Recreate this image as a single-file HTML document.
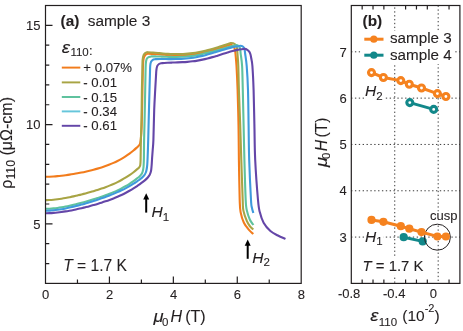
<!DOCTYPE html>
<html><head><meta charset="utf-8"><title>fig</title>
<style>html,body{margin:0;padding:0;background:#fff;}body{width:463px;height:331px;overflow:hidden;}svg{display:block;}text{font-family:"Liberation Sans",sans-serif;fill:#231f20;stroke:#231f20;stroke-width:0.1px;}</style></head><body>
<svg width="463" height="331" viewBox="0 0 463 331" style="will-change:transform">
<rect width="463" height="331" fill="#fff"/>
<path d="M45.50 176.78 C46.17 176.77 48.17 176.76 49.50 176.71 C50.83 176.66 52.17 176.59 53.50 176.50 C54.83 176.41 56.17 176.30 57.50 176.17 C58.83 176.05 60.17 175.90 61.50 175.75 C62.83 175.59 64.17 175.42 65.50 175.24 C66.83 175.05 68.17 174.86 69.50 174.65 C70.83 174.45 72.17 174.23 73.50 174.00 C74.83 173.77 76.17 173.53 77.50 173.28 C78.83 173.03 80.17 172.77 81.50 172.50 C82.83 172.23 84.17 171.95 85.50 171.65 C86.83 171.36 88.17 171.05 89.50 170.73 C90.83 170.41 92.17 170.08 93.50 169.72 C94.83 169.37 96.17 169.01 97.50 168.62 C98.83 168.23 100.17 167.83 101.50 167.40 C102.83 166.98 104.17 166.53 105.50 166.05 C106.83 165.58 108.17 165.08 109.50 164.54 C110.83 164.01 112.17 163.45 113.50 162.85 C114.83 162.25 116.17 161.62 117.50 160.95 C118.83 160.27 120.17 159.56 121.50 158.79 C122.83 158.03 124.17 157.22 125.50 156.35 C126.83 155.49 128.17 154.58 129.50 153.59 C130.83 152.61 132.17 151.58 133.50 150.46 C134.83 149.35 136.70 147.64 137.50 146.92 C138.30 146.20 137.93 146.54 138.30 146.16 C138.67 145.77 139.37 145.21 139.70 144.60 C140.03 143.99 140.12 143.43 140.30 142.50 C140.48 141.57 140.63 140.58 140.80 139.00 C140.97 137.42 141.15 135.33 141.30 133.00 C141.45 130.67 141.58 128.50 141.70 125.00 C141.82 121.50 141.91 116.17 142.00 112.00 C142.09 107.83 142.16 104.67 142.25 100.00 C142.34 95.33 142.46 88.67 142.55 84.00 C142.64 79.33 142.71 75.50 142.80 72.00 C142.89 68.50 142.95 65.28 143.10 63.00 C143.25 60.72 143.40 59.53 143.70 58.30 C144.00 57.07 144.42 56.28 144.90 55.60 C145.38 54.92 146.08 54.51 146.60 54.20 C147.12 53.89 146.93 53.79 148.00 53.75 C149.07 53.71 151.33 53.86 153.00 53.95 C154.67 54.04 156.33 54.16 158.00 54.27 C159.67 54.39 161.33 54.52 163.00 54.63 C164.67 54.74 166.33 54.86 168.00 54.95 C169.67 55.05 171.33 55.13 173.00 55.19 C174.67 55.24 176.33 55.28 178.00 55.28 C179.67 55.28 181.33 55.26 183.00 55.20 C184.67 55.13 186.33 55.04 188.00 54.91 C189.67 54.77 191.33 54.60 193.00 54.40 C194.67 54.19 196.33 53.94 198.00 53.66 C199.67 53.38 201.33 53.05 203.00 52.70 C204.67 52.35 206.33 51.95 208.00 51.53 C209.67 51.11 211.33 50.66 213.00 50.19 C214.67 49.71 216.33 49.21 218.00 48.70 C219.67 48.18 221.33 47.64 223.00 47.11 C224.67 46.57 226.78 45.87 228.00 45.49 C229.22 45.10 229.53 44.78 230.30 44.80 C231.07 44.82 231.95 45.17 232.60 45.60 C233.25 46.03 233.80 46.67 234.20 47.40 C234.60 48.13 234.78 48.90 235.00 50.00 C235.22 51.10 235.25 51.33 235.50 54.00 C235.75 56.67 236.15 60.00 236.50 66.00 C236.85 72.00 237.27 80.17 237.60 90.00 C237.93 99.83 238.28 113.33 238.50 125.00 C238.72 136.67 238.70 147.50 238.90 160.00 C239.10 172.50 239.42 191.32 239.70 200.00 C239.98 208.68 239.90 208.32 240.60 212.10 C241.30 215.88 242.47 219.68 243.90 222.70 C245.33 225.72 247.63 228.32 249.20 230.20 C250.77 232.08 252.62 233.37 253.30 234.00" fill="none" stroke="#F27C1C" stroke-width="2.1" stroke-linejoin="round" stroke-linecap="butt"/>
<path d="M45.50 200.13 C46.17 200.11 48.17 200.09 49.50 200.02 C50.83 199.96 52.17 199.86 53.50 199.73 C54.83 199.61 56.17 199.45 57.50 199.28 C58.83 199.11 60.17 198.91 61.50 198.70 C62.83 198.49 64.17 198.26 65.50 198.01 C66.83 197.76 68.17 197.50 69.50 197.23 C70.83 196.95 72.17 196.67 73.50 196.37 C74.83 196.07 76.17 195.76 77.50 195.44 C78.83 195.12 80.17 194.80 81.50 194.46 C82.83 194.12 84.17 193.77 85.50 193.42 C86.83 193.06 88.17 192.69 89.50 192.32 C90.83 191.94 92.17 191.55 93.50 191.15 C94.83 190.75 96.17 190.34 97.50 189.92 C98.83 189.49 100.17 189.05 101.50 188.60 C102.83 188.14 104.17 187.67 105.50 187.18 C106.83 186.68 108.17 186.17 109.50 185.64 C110.83 185.10 112.17 184.54 113.50 183.95 C114.83 183.36 116.17 182.74 117.50 182.09 C118.83 181.43 120.17 180.75 121.50 180.02 C122.83 179.29 124.17 178.53 125.50 177.71 C126.83 176.90 128.17 176.04 129.50 175.12 C130.83 174.21 132.17 173.24 133.50 172.21 C134.83 171.18 136.58 169.70 137.50 168.92 C138.42 168.15 138.55 168.21 139.00 167.59 C139.45 166.97 139.93 166.46 140.20 165.20 C140.47 163.94 140.48 164.20 140.60 160.00 C140.72 155.80 140.75 146.67 140.90 140.00 C141.05 133.33 141.33 128.33 141.50 120.00 C141.67 111.67 141.77 97.67 141.90 90.00 C142.03 82.33 142.18 79.00 142.30 74.00 C142.42 69.00 142.38 63.13 142.60 60.00 C142.82 56.87 143.15 56.37 143.60 55.20 C144.05 54.03 144.73 53.50 145.30 53.00 C145.87 52.50 146.55 52.32 147.00 52.20 C147.45 52.08 147.00 52.20 148.00 52.27 C149.00 52.34 151.33 52.50 153.00 52.63 C154.67 52.76 156.33 52.91 158.00 53.05 C159.67 53.19 161.33 53.34 163.00 53.46 C164.67 53.59 166.33 53.71 168.00 53.81 C169.67 53.91 171.33 53.99 173.00 54.04 C174.67 54.09 176.33 54.12 178.00 54.11 C179.67 54.10 181.33 54.07 183.00 53.99 C184.67 53.92 186.33 53.81 188.00 53.66 C189.67 53.52 191.33 53.33 193.00 53.11 C194.67 52.89 196.33 52.63 198.00 52.33 C199.67 52.03 201.33 51.70 203.00 51.33 C204.67 50.97 206.33 50.56 208.00 50.13 C209.67 49.70 211.33 49.23 213.00 48.75 C214.67 48.26 216.33 47.75 218.00 47.22 C219.67 46.70 221.33 46.15 223.00 45.60 C224.67 45.05 227.00 44.27 228.00 43.93 C229.00 43.60 228.57 43.76 229.00 43.60 C229.43 43.45 229.92 43.05 230.60 43.00 C231.28 42.95 232.32 43.03 233.10 43.30 C233.88 43.57 234.70 44.02 235.30 44.60 C235.90 45.18 236.38 45.90 236.70 46.80 C237.02 47.70 237.07 48.80 237.20 50.00 C237.33 51.20 237.32 51.33 237.50 54.00 C237.68 56.67 238.07 60.00 238.30 66.00 C238.53 72.00 238.58 80.17 238.90 90.00 C239.22 99.83 239.80 113.33 240.20 125.00 C240.60 136.67 240.88 147.50 241.30 160.00 C241.72 172.50 242.35 191.57 242.70 200.00 C243.05 208.43 242.70 207.07 243.40 210.60 C244.10 214.13 245.80 218.58 246.90 221.20 C248.00 223.82 248.93 224.92 250.00 226.30 C251.07 227.68 252.75 228.97 253.30 229.50" fill="none" stroke="#A8A444" stroke-width="2.1" stroke-linejoin="round" stroke-linecap="butt"/>
<path d="M45.50 208.83 C46.17 208.81 48.17 208.79 49.50 208.72 C50.83 208.65 52.17 208.54 53.50 208.40 C54.83 208.27 56.17 208.10 57.50 207.92 C58.83 207.74 60.17 207.52 61.50 207.29 C62.83 207.07 64.17 206.82 65.50 206.55 C66.83 206.29 68.17 206.01 69.50 205.71 C70.83 205.42 72.17 205.11 73.50 204.79 C74.83 204.47 76.17 204.14 77.50 203.80 C78.83 203.47 80.17 203.12 81.50 202.76 C82.83 202.40 84.17 202.03 85.50 201.66 C86.83 201.28 88.17 200.90 89.50 200.51 C90.83 200.11 92.17 199.71 93.50 199.30 C94.83 198.89 96.17 198.47 97.50 198.04 C98.83 197.60 100.17 197.16 101.50 196.70 C102.83 196.24 104.17 195.77 105.50 195.28 C106.83 194.79 108.17 194.29 109.50 193.76 C110.83 193.23 112.17 192.69 113.50 192.12 C114.83 191.55 116.17 190.95 117.50 190.33 C118.83 189.70 120.17 189.05 121.50 188.36 C122.83 187.67 124.17 186.95 125.50 186.19 C126.83 185.42 128.17 184.62 129.50 183.77 C130.83 182.91 132.25 181.95 133.50 181.06 C134.75 180.17 136.00 179.20 137.00 178.43 C138.00 177.65 138.78 177.07 139.50 176.40 C140.22 175.73 140.82 175.07 141.30 174.40 C141.78 173.73 142.10 173.17 142.40 172.40 C142.70 171.63 142.92 170.70 143.10 169.80 C143.28 168.90 143.40 167.97 143.50 167.00 C143.60 166.03 143.63 165.50 143.70 164.00 C143.77 162.50 143.83 162.00 143.90 158.00 C143.97 154.00 143.98 146.33 144.10 140.00 C144.22 133.67 144.42 128.33 144.60 120.00 C144.78 111.67 145.05 97.67 145.20 90.00 C145.35 82.33 145.40 78.33 145.50 74.00 C145.60 69.67 145.62 66.47 145.80 64.00 C145.98 61.53 146.17 60.32 146.60 59.20 C147.03 58.08 147.75 57.72 148.40 57.30 C149.05 56.88 149.98 56.86 150.50 56.70 C151.02 56.54 150.50 56.41 151.50 56.37 C152.50 56.32 154.83 56.40 156.50 56.44 C158.17 56.48 159.83 56.55 161.50 56.61 C163.17 56.67 164.83 56.74 166.50 56.79 C168.17 56.84 169.83 56.89 171.50 56.92 C173.17 56.94 174.83 56.95 176.50 56.93 C178.17 56.91 179.83 56.87 181.50 56.79 C183.17 56.71 184.83 56.61 186.50 56.46 C188.17 56.32 189.83 56.14 191.50 55.93 C193.17 55.71 194.83 55.46 196.50 55.18 C198.17 54.90 199.83 54.58 201.50 54.23 C203.17 53.88 204.83 53.50 206.50 53.09 C208.17 52.69 209.83 52.25 211.50 51.81 C213.17 51.36 214.83 50.89 216.50 50.42 C218.17 49.94 219.83 49.45 221.50 48.98 C223.17 48.50 224.83 48.01 226.50 47.56 C228.17 47.10 230.25 46.57 231.50 46.25 C232.75 45.93 233.20 45.86 234.00 45.67 C234.80 45.47 235.57 45.06 236.30 45.10 C237.03 45.14 237.82 45.48 238.40 45.90 C238.98 46.32 239.47 46.75 239.80 47.60 C240.13 48.45 240.25 49.93 240.40 51.00 C240.55 52.07 240.42 51.50 240.70 54.00 C240.98 56.50 241.75 60.00 242.10 66.00 C242.45 72.00 242.55 80.17 242.80 90.00 C243.05 99.83 243.33 113.33 243.60 125.00 C243.87 136.67 244.05 147.50 244.40 160.00 C244.75 172.50 245.28 191.57 245.70 200.00 C246.12 208.43 246.20 207.32 246.90 210.60 C247.60 213.88 248.82 217.30 249.90 219.70 C250.98 222.10 252.82 224.12 253.40 225.00" fill="none" stroke="#5FC29E" stroke-width="2.1" stroke-linejoin="round" stroke-linecap="butt"/>
<path d="M45.50 210.73 C46.17 210.71 48.17 210.69 49.50 210.62 C50.83 210.55 52.17 210.44 53.50 210.31 C54.83 210.17 56.17 210.01 57.50 209.82 C58.83 209.64 60.17 209.42 61.50 209.19 C62.83 208.96 64.17 208.71 65.50 208.44 C66.83 208.17 68.17 207.88 69.50 207.58 C70.83 207.28 72.17 206.96 73.50 206.64 C74.83 206.31 76.17 205.97 77.50 205.62 C78.83 205.27 80.17 204.91 81.50 204.54 C82.83 204.17 84.17 203.80 85.50 203.41 C86.83 203.02 88.17 202.63 89.50 202.22 C90.83 201.82 92.17 201.41 93.50 200.99 C94.83 200.57 96.17 200.14 97.50 199.70 C98.83 199.26 100.17 198.81 101.50 198.35 C102.83 197.89 104.17 197.42 105.50 196.94 C106.83 196.45 108.17 195.96 109.50 195.44 C110.83 194.93 112.17 194.40 113.50 193.85 C114.83 193.30 116.17 192.74 117.50 192.15 C118.83 191.56 120.17 190.95 121.50 190.31 C122.83 189.67 124.17 189.01 125.50 188.31 C126.83 187.61 128.17 186.89 129.50 186.12 C130.83 185.36 132.17 184.56 133.50 183.72 C134.83 182.87 136.58 181.68 137.50 181.06 C138.42 180.43 138.33 180.48 139.00 179.99 C139.67 179.49 140.77 178.71 141.50 178.10 C142.23 177.49 142.85 176.90 143.40 176.30 C143.95 175.70 144.40 175.13 144.80 174.50 C145.20 173.87 145.52 173.25 145.80 172.50 C146.08 171.75 146.30 170.92 146.50 170.00 C146.70 169.08 146.87 168.00 147.00 167.00 C147.13 166.00 147.20 165.50 147.30 164.00 C147.40 162.50 147.50 160.33 147.60 158.00 C147.70 155.67 147.80 153.00 147.90 150.00 C148.00 147.00 148.07 145.00 148.20 140.00 C148.33 135.00 148.48 128.33 148.70 120.00 C148.92 111.67 149.30 97.33 149.50 90.00 C149.70 82.67 149.78 80.00 149.90 76.00 C150.02 72.00 150.02 68.35 150.20 66.00 C150.38 63.65 150.57 62.93 151.00 61.90 C151.43 60.87 152.13 60.25 152.80 59.80 C153.47 59.35 154.47 59.31 155.00 59.20 C155.53 59.09 155.00 59.15 156.00 59.13 C157.00 59.10 159.33 59.05 161.00 59.04 C162.67 59.03 164.33 59.06 166.00 59.07 C167.67 59.08 169.33 59.10 171.00 59.10 C172.67 59.10 174.33 59.10 176.00 59.07 C177.67 59.04 179.33 58.99 181.00 58.90 C182.67 58.81 184.33 58.70 186.00 58.54 C187.67 58.39 189.33 58.20 191.00 57.97 C192.67 57.74 194.33 57.47 196.00 57.16 C197.67 56.86 199.33 56.51 201.00 56.13 C202.67 55.75 204.33 55.34 206.00 54.90 C207.67 54.46 209.33 53.98 211.00 53.49 C212.67 53.01 214.33 52.49 216.00 51.98 C217.67 51.47 219.33 50.94 221.00 50.43 C222.67 49.93 224.33 49.41 226.00 48.94 C227.67 48.47 229.33 48.01 231.00 47.62 C232.67 47.23 234.75 46.82 236.00 46.59 C237.25 46.35 237.75 46.35 238.50 46.22 C239.25 46.09 239.82 45.77 240.50 45.80 C241.18 45.83 242.00 46.03 242.60 46.40 C243.20 46.77 243.73 47.23 244.10 48.00 C244.47 48.77 244.62 50.00 244.80 51.00 C244.98 52.00 244.88 51.50 245.20 54.00 C245.52 56.50 246.23 60.00 246.70 66.00 C247.17 72.00 247.68 80.17 248.00 90.00 C248.32 99.83 248.40 113.33 248.60 125.00 C248.80 136.67 248.80 147.50 249.20 160.00 C249.60 172.50 250.55 192.07 251.00 200.00 C251.45 207.93 251.52 205.45 251.90 207.60 C252.28 209.75 253.07 212.02 253.30 212.90" fill="none" stroke="#3E9ADD" stroke-width="2.1" stroke-linejoin="round" stroke-linecap="butt"/>
<path d="M45.50 213.20 C46.17 213.19 48.17 213.17 49.50 213.12 C50.83 213.06 52.17 212.98 53.50 212.87 C54.83 212.77 56.17 212.64 57.50 212.49 C58.83 212.35 60.17 212.18 61.50 211.99 C62.83 211.81 64.17 211.61 65.50 211.39 C66.83 211.18 68.17 210.94 69.50 210.70 C70.83 210.46 72.17 210.20 73.50 209.93 C74.83 209.66 76.17 209.38 77.50 209.09 C78.83 208.79 80.17 208.49 81.50 208.18 C82.83 207.86 84.17 207.54 85.50 207.21 C86.83 206.87 88.17 206.53 89.50 206.17 C90.83 205.82 92.17 205.46 93.50 205.08 C94.83 204.70 96.17 204.32 97.50 203.91 C98.83 203.51 100.17 203.10 101.50 202.68 C102.83 202.25 104.17 201.81 105.50 201.35 C106.83 200.89 108.17 200.42 109.50 199.93 C110.83 199.44 112.17 198.93 113.50 198.40 C114.83 197.87 116.17 197.32 117.50 196.74 C118.83 196.16 120.17 195.56 121.50 194.93 C122.83 194.30 124.17 193.65 125.50 192.96 C126.83 192.26 128.17 191.54 129.50 190.78 C130.83 190.02 132.17 189.23 133.50 188.39 C134.83 187.55 136.58 186.37 137.50 185.75 C138.42 185.13 138.17 185.28 139.00 184.69 C139.83 184.10 141.43 183.00 142.50 182.20 C143.57 181.40 144.52 180.68 145.40 179.90 C146.28 179.12 147.10 178.32 147.80 177.50 C148.50 176.68 149.13 175.83 149.60 175.00 C150.07 174.17 150.33 173.37 150.60 172.50 C150.87 171.63 151.02 171.13 151.20 169.80 C151.38 168.47 151.55 166.47 151.70 164.50 C151.85 162.53 151.93 160.42 152.10 158.00 C152.27 155.58 152.48 153.00 152.70 150.00 C152.92 147.00 153.15 146.67 153.40 140.00 C153.65 133.33 153.90 118.33 154.20 110.00 C154.50 101.67 154.90 95.67 155.20 90.00 C155.50 84.33 155.80 79.33 156.00 76.00 C156.20 72.67 156.20 71.63 156.40 70.00 C156.60 68.37 156.77 67.20 157.20 66.20 C157.63 65.20 158.28 64.50 159.00 64.00 C159.72 63.50 160.92 63.34 161.50 63.20 C162.08 63.06 161.50 63.23 162.50 63.15 C163.50 63.08 165.83 62.87 167.50 62.76 C169.17 62.66 170.83 62.61 172.50 62.55 C174.17 62.48 175.83 62.44 177.50 62.38 C179.17 62.32 180.83 62.26 182.50 62.17 C184.17 62.08 185.83 61.97 187.50 61.83 C189.17 61.69 190.83 61.53 192.50 61.32 C194.17 61.12 195.83 60.88 197.50 60.60 C199.17 60.32 200.83 60.01 202.50 59.65 C204.17 59.30 205.83 58.91 207.50 58.49 C209.17 58.07 210.83 57.61 212.50 57.13 C214.17 56.66 215.83 56.14 217.50 55.63 C219.17 55.12 220.83 54.58 222.50 54.06 C224.17 53.54 225.83 53.00 227.50 52.50 C229.17 52.00 230.83 51.50 232.50 51.07 C234.17 50.64 235.92 50.21 237.50 49.90 C239.08 49.59 240.83 49.36 242.00 49.20 C243.17 49.03 243.62 48.80 244.50 48.90 C245.38 49.00 246.48 49.30 247.30 49.80 C248.12 50.30 248.87 51.12 249.40 51.90 C249.93 52.68 250.20 53.48 250.50 54.50 C250.80 55.52 250.88 56.08 251.20 58.00 C251.52 59.92 252.00 60.67 252.40 66.00 C252.80 71.33 253.27 80.17 253.60 90.00 C253.93 99.83 254.13 113.33 254.40 125.00 C254.67 136.67 254.60 147.50 255.20 160.00 C255.80 172.50 257.23 191.32 258.00 200.00 C258.77 208.68 258.87 208.32 259.80 212.10 C260.73 215.88 261.83 219.55 263.60 222.70 C265.37 225.85 268.02 228.87 270.40 231.00 C272.78 233.13 275.38 234.18 277.90 235.50 C280.42 236.82 284.23 238.33 285.50 238.90" fill="none" stroke="#6446A8" stroke-width="2.1" stroke-linejoin="round" stroke-linecap="butt"/>
<rect x="45.50" y="5.50" width="255.70" height="277.90" fill="none" stroke="#231f20" stroke-width="1.2"/>
<path d="M77.46 283.40 v-3.80 M109.42 283.40 v-7.00 M141.39 283.40 v-3.80 M173.35 283.40 v-7.00 M205.31 283.40 v-3.80 M237.27 283.40 v-7.00 M269.24 283.40 v-3.80 M45.50 263.55 h3.80 M45.50 243.70 h3.80 M45.50 223.85 h7.00 M45.50 204.00 h3.80 M45.50 184.15 h3.80 M45.50 164.30 h3.80 M45.50 144.45 h3.80 M45.50 124.60 h7.00 M45.50 104.75 h3.80 M45.50 84.90 h3.80 M45.50 65.05 h3.80 M45.50 45.20 h3.80 M45.50 25.35 h7.00" stroke="#231f20" stroke-width="1.2" fill="none"/>
<text x="45.70" y="298.5" font-size="13" text-anchor="middle">0</text>
<text x="109.62" y="298.5" font-size="13" text-anchor="middle">2</text>
<text x="173.55" y="298.5" font-size="13" text-anchor="middle">4</text>
<text x="237.47" y="298.5" font-size="13" text-anchor="middle">6</text>
<text x="301.40" y="298.5" font-size="13" text-anchor="middle">8</text>
<text x="40.5" y="228.55" font-size="13" text-anchor="end">5</text>
<text x="40.5" y="129.30" font-size="13" text-anchor="end">10</text>
<text x="40.5" y="30.05" font-size="13" text-anchor="end">15</text>
<g transform="translate(153.6,322.4)">
<text transform="scale(1.15,1)" x="0" y="0" font-size="16" font-style="italic">μ</text>
<text x="8.3" y="3.8" font-size="11.5">0</text>
<text x="16.8" y="0" font-size="16" font-style="italic">H</text>
<text x="31.6" y="0" font-size="16">(T)</text>
</g>
<text transform="translate(11.5,188.7) rotate(-90)" font-size="16">ρ<tspan font-size="12.3" dy="3.7">110</tspan><tspan dy="-3.7"> (μΩ-cm)</tspan></text>
<text x="60.5" y="26" font-size="15.4"><tspan font-weight="bold">(a)</tspan><tspan x="87.8">sample 3</tspan></text>
<text transform="translate(61.7,52.9) scale(1.17,1.02)" font-size="16" font-style="italic" stroke-width="0">ε</text>
<text x="70.4" y="56.3" font-size="11.5">110</text>
<text x="89.0" y="55.0" font-size="13">:</text>
<line x1="61.8" x2="80.3" y1="67.60" y2="67.60" stroke="#F27C1C" stroke-width="1.95"/>
<text x="83.3" y="72.20" font-size="13.2">+ 0.07%</text>
<line x1="61.8" x2="80.3" y1="82.40" y2="82.40" stroke="#A8A444" stroke-width="1.95"/>
<text x="83.3" y="87.00" font-size="13.2">- 0.01</text>
<line x1="61.8" x2="80.3" y1="97.00" y2="97.00" stroke="#5FC29E" stroke-width="1.95"/>
<text x="83.3" y="101.60" font-size="13.2">- 0.15</text>
<line x1="61.8" x2="80.3" y1="111.40" y2="111.40" stroke="#66C6DB" stroke-width="1.95"/>
<text x="83.3" y="116.00" font-size="13.2">- 0.34</text>
<line x1="61.8" x2="80.3" y1="125.80" y2="125.80" stroke="#6446A8" stroke-width="1.95"/>
<text x="83.3" y="130.40" font-size="13.2">- 0.61</text>
<text x="63.2" y="271.2" font-size="15.6"><tspan font-style="italic">T</tspan> = 1.7 K</text>
<path d="M146.20 212.60 V197.30" stroke="#000" stroke-width="2" fill="none"/>
<path d="M146.20 193.30 l-3 6.2 h6 z" fill="#000"/>
<path d="M247.70 258.80 V243.50" stroke="#000" stroke-width="2" fill="none"/>
<path d="M247.70 239.50 l-3 6.2 h6 z" fill="#000"/>
<text x="151.6" y="216.8" font-size="15.5" font-style="italic">H<tspan font-style="normal" font-size="11.5" dy="3.8">1</tspan></text>
<text x="252.2" y="262.6" font-size="15.5" font-style="italic">H<tspan font-style="normal" font-size="11.5" dy="3.8">2</tspan></text>
<path d="M394.74 5.50 V283.40" stroke="#3a3a3a" stroke-width="1" stroke-dasharray="1.35 2.51" stroke-dashoffset="1.96" fill="none"/>
<path d="M438.18 5.50 V283.40" stroke="#3a3a3a" stroke-width="1" stroke-dasharray="1.35 2.51" stroke-dashoffset="3.81" fill="none"/>
<path d="M351.30 237.08 H459.90" stroke="#3a3a3a" stroke-width="1" stroke-dasharray="1.35 2.51" stroke-dashoffset="0.23" fill="none"/>
<path d="M351.30 190.77 H459.90" stroke="#3a3a3a" stroke-width="1" stroke-dasharray="1.35 2.51" stroke-dashoffset="0.23" fill="none"/>
<path d="M351.30 144.45 H459.90" stroke="#3a3a3a" stroke-width="1" stroke-dasharray="1.35 2.51" stroke-dashoffset="0.23" fill="none"/>
<path d="M351.30 98.13 H459.90" stroke="#3a3a3a" stroke-width="1" stroke-dasharray="1.35 2.51" stroke-dashoffset="0.23" fill="none"/>
<path d="M351.30 51.82 H459.90" stroke="#3a3a3a" stroke-width="1" stroke-dasharray="1.35 2.51" stroke-dashoffset="0.23" fill="none"/>
<rect x="364.0" y="84.5" width="20.0" height="17.0" fill="#fff"/>
<rect x="364.0" y="226.0" width="19.5" height="20.5" fill="#fff"/>
<rect x="362.0" y="256.0" width="62.0" height="19.5" fill="#fff"/>
<rect x="429.5" y="211.6" width="29.0" height="12.7" fill="#fff"/>
<rect x="351.30" y="5.50" width="108.60" height="277.90" fill="none" stroke="#231f20" stroke-width="1.2"/>
<path d="M362.16 283.40 v-4 M362.16 5.50 v4 M373.02 283.40 v-4 M373.02 5.50 v4 M383.88 283.40 v-4 M383.88 5.50 v4 M405.60 283.40 v-4 M405.60 5.50 v4 M416.46 283.40 v-4 M416.46 5.50 v4 M427.32 283.40 v-4 M427.32 5.50 v4 M449.04 283.40 v-4 M449.04 5.50 v4" stroke="#231f20" stroke-width="1.2" fill="none"/>
<text x="346.8" y="241.78" font-size="13" text-anchor="end">3</text>
<text x="346.8" y="195.47" font-size="13" text-anchor="end">4</text>
<text x="346.8" y="149.15" font-size="13" text-anchor="end">5</text>
<text x="346.8" y="102.83" font-size="13" text-anchor="end">6</text>
<text x="346.8" y="56.52" font-size="13" text-anchor="end">7</text>
<text x="349.1" y="298.4" font-size="13" text-anchor="middle">-0.8</text>
<text x="394.2" y="298.4" font-size="13" text-anchor="middle">-0.4</text>
<text x="433.4" y="298.4" font-size="13" text-anchor="middle">0</text>
<g transform="translate(326.6,167.0) rotate(-90) scale(0.98)">
<text transform="scale(1.15,1)" x="0" y="0" font-size="16" font-style="italic">μ</text>
<text x="8.3" y="3.8" font-size="11.5">0</text>
<text x="16.2" y="0" font-size="16" font-style="italic">H</text>
<text x="30.0" y="0" font-size="16">(T)</text>
</g>
<text transform="translate(370.2,321.3) scale(1.17,1.02)" font-size="16" font-style="italic" stroke-width="0">ε</text>
<text x="378.8" y="325.8" font-size="11.5">110</text>
<text x="402.3" y="321.3" font-size="15.5">(10<tspan font-size="11" dy="-9.2">-2</tspan><tspan dy="9.2">)</tspan></text>
<path d="M371.50 72.60 L383.40 77.50 L400.80 80.60 L409.30 84.30 L421.50 88.00 L437.40 93.60 L445.90 96.50" stroke="#F5821F" stroke-width="3.0" fill="none"/>
<path d="M409.80 102.60 L433.70 109.40" stroke="#12888A" stroke-width="3.0" fill="none"/>
<circle cx="371.50" cy="72.60" r="3.0" fill="#fff" stroke="#F5821F" stroke-width="3.1"/>
<circle cx="383.40" cy="77.50" r="3.0" fill="#fff" stroke="#F5821F" stroke-width="3.1"/>
<circle cx="400.80" cy="80.60" r="3.0" fill="#fff" stroke="#F5821F" stroke-width="3.1"/>
<circle cx="409.30" cy="84.30" r="3.0" fill="#fff" stroke="#F5821F" stroke-width="3.1"/>
<circle cx="421.50" cy="88.00" r="3.0" fill="#fff" stroke="#F5821F" stroke-width="3.1"/>
<circle cx="437.40" cy="93.60" r="3.0" fill="#fff" stroke="#F5821F" stroke-width="3.1"/>
<circle cx="445.90" cy="96.50" r="3.0" fill="#fff" stroke="#F5821F" stroke-width="3.1"/>
<circle cx="409.80" cy="102.60" r="3.0" fill="#fff" stroke="#12888A" stroke-width="3.1"/>
<circle cx="433.70" cy="109.40" r="3.0" fill="#fff" stroke="#12888A" stroke-width="3.1"/>
<path d="M403.70 237.20 L422.70 241.40" stroke="#12888A" stroke-width="3.0" fill="none"/>
<circle cx="403.70" cy="237.20" r="4.1" fill="#12888A"/>
<circle cx="422.70" cy="241.40" r="4.1" fill="#12888A"/>
<circle cx="437.4" cy="237.2" r="13" fill="none" stroke="#231f20" stroke-width="1.0"/>
<path d="M371.50 219.90 L383.40 221.80 L400.80 226.20 L409.30 228.70 L421.50 232.10 L437.40 236.50 L445.90 236.50" stroke="#F5821F" stroke-width="3.0" fill="none"/>
<circle cx="371.50" cy="219.90" r="4.1" fill="#F5821F"/>
<circle cx="383.40" cy="221.80" r="4.1" fill="#F5821F"/>
<circle cx="400.80" cy="226.20" r="4.1" fill="#F5821F"/>
<circle cx="409.30" cy="228.70" r="4.1" fill="#F5821F"/>
<circle cx="421.50" cy="232.10" r="4.1" fill="#F5821F"/>
<circle cx="437.40" cy="236.50" r="4.1" fill="#F5821F"/>
<circle cx="445.90" cy="236.50" r="4.1" fill="#F5821F"/>
<text x="430" y="220.1" font-size="13">cusp</text>
<rect x="360.3" y="31" width="94.7" height="33" fill="#fff"/>
<text x="362.5" y="26" font-size="15.4" font-weight="bold">(b)</text>
<line x1="364.3" x2="383.5" y1="39.20" y2="39.20" stroke="#F5821F" stroke-width="3.0"/>
<circle cx="373.8" cy="39.20" r="3.6" fill="#F5821F"/>
<text x="390" y="43.00" font-size="15.2">sample 3</text>
<line x1="364.3" x2="383.5" y1="55.20" y2="55.20" stroke="#12888A" stroke-width="3.0"/>
<circle cx="373.8" cy="55.20" r="3.6" fill="#12888A"/>
<text x="390" y="59.70" font-size="15.2">sample 4</text>
<text x="365" y="96" font-size="15.5" font-style="italic">H<tspan font-style="normal" font-size="11.5" dy="3.8">2</tspan></text>
<text x="365" y="241.6" font-size="15.5" font-style="italic">H<tspan font-style="normal" font-size="11.5" dy="3.8">1</tspan></text>
<text x="362.6" y="271.2" font-size="14.9"><tspan font-style="italic">T</tspan> = 1.7 K</text>
</svg></body></html>
